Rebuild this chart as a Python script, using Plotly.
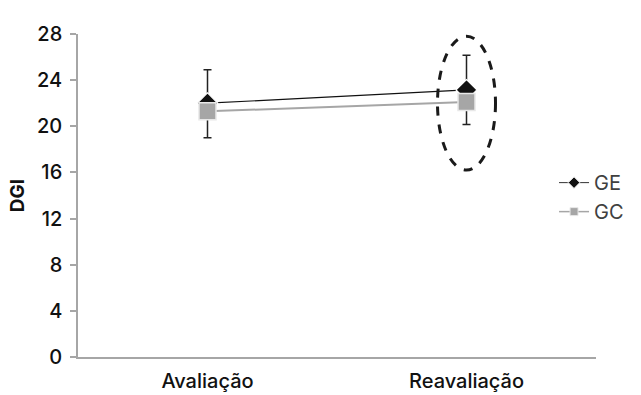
import plotly.graph_objects as go

categories = ["Avaliação", "Reavaliação"]
ge_values = [22.0, 23.15]
gc_values = [21.3, 22.1]
ge_err_plus = [2.9, 3.0]
ge_err_minus = [3.0, 3.0]
y_ticks = [0, 4, 8, 12, 16, 20, 24, 28]
sig_index = 1
ellipse_y = [16.2, 27.8]

FONT = "Inter"

fig = go.Figure()
fig.add_trace(go.Scatter(
    x=categories, y=ge_values, name="GE", mode="lines+markers", showlegend=False,
    line=dict(color="#111111", width=1.2),
    marker=dict(symbol="diamond", size=16, color="#111111",
                line=dict(color="white", width=1.2)),
    error_y=dict(type="data", symmetric=False, array=ge_err_plus,
                 arrayminus=ge_err_minus, color="#222222", thickness=1.5, width=4),
))
fig.add_trace(go.Scatter(
    x=categories, y=gc_values, name="GC", mode="lines+markers", showlegend=False,
    line=dict(color="#a6a6a6", width=2),
    marker=dict(symbol="square", size=17, color="#a6a6a6",
                line=dict(color="#e8e8e8", width=1.5)),
))
# legend entries with small markers
fig.add_trace(go.Scatter(
    x=[None], y=[None], name="GE", mode="lines+markers",
    line=dict(color="#333333", width=1),
    marker=dict(symbol="diamond", size=9, color="#111111",
                line=dict(color="white", width=1)),
))
fig.add_trace(go.Scatter(
    x=[None], y=[None], name="GC", mode="lines+markers",
    line=dict(color="#a6a6a6", width=1.5),
    marker=dict(symbol="square", size=8, color="#a6a6a6",
                line=dict(color="#e8e8e8", width=1)),
))

fig.add_shape(type="circle", xref="x", yref="y",
              x0=sig_index - 0.112, x1=sig_index + 0.112,
              y0=ellipse_y[0], y1=ellipse_y[1],
              line=dict(color="#1a1a1a", width=3, dash="dash"))
fig.add_annotation(x=categories[sig_index], y=29.4, xref="x", yref="y",
                   text="*", showarrow=False,
                   font=dict(family=FONT, size=16, color="#222222"))

fig.update_layout(
    width=641, height=395,
    margin=dict(l=78, r=35, t=34, b=38),
    plot_bgcolor="white", paper_bgcolor="white",
    showlegend=True,
    legend=dict(x=0.919, y=0.495, xanchor="left", yanchor="middle",
                font=dict(family=FONT, size=20, color="#404040"),
                bgcolor="rgba(0,0,0,0)", tracegroupgap=0, itemwidth=30),
    font=dict(family=FONT, size=19, color="#111111"),
)
fig.update_xaxes(
    type="category", range=[-0.5, 1.5], showgrid=False, automargin=False,
    showline=True, linecolor="#a6a6a6", linewidth=1.5,
    ticks="", ticklabelstandoff=5,
    tickfont=dict(family=FONT, size=20, color="#111111", weight=500),
)
fig.update_yaxes(
    range=[0, 28], tickvals=y_ticks, showgrid=False, zeroline=False, automargin=False,
    showline=True, linecolor="#a6a6a6", linewidth=1.5,
    ticks="outside", ticklen=6, tickcolor="#a6a6a6", tickwidth=1.5,
    ticklabelstandoff=4,
    tickfont=dict(family=FONT, size=20, color="#111111", weight=500),
    title=dict(text="DGI", standoff=7,
               font=dict(family=FONT, size=19, color="#111111", weight=700)),
)

fig.write_html("out.html")
